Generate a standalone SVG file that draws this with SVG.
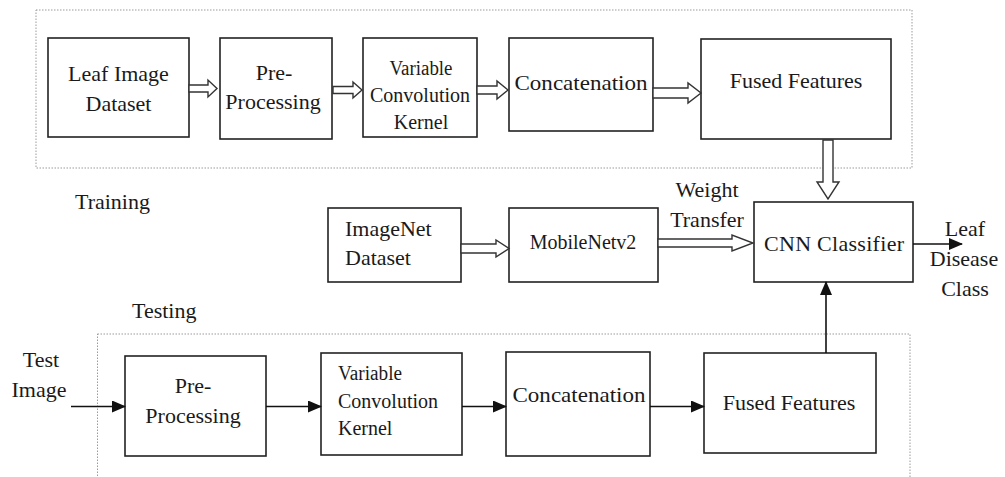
<svg xmlns="http://www.w3.org/2000/svg" width="1005" height="477" viewBox="0 0 1005 477" font-family="'Liberation Serif', 'DejaVu Serif', serif">
  <style>
    text { font-family: 'Liberation Serif', 'DejaVu Serif', serif; font-size: 22px; fill: #1a1a1a; }
    .c { text-anchor: middle; }
    .s20 { font-size: 20px; }
    .box { fill: #fff; stroke: #222; stroke-width: 1.6; }
    .region { fill: none; stroke: #9a9a9a; stroke-width: 1; stroke-dasharray: 1.5 1.5; }
    .hollow { fill: #fff; stroke: #333; stroke-width: 1.4; stroke-linejoin: miter; }
    .line { fill: none; stroke: #111; stroke-width: 1.6; }
  </style>
  <defs>
    <marker id="tri" markerWidth="14" markerHeight="12" refX="13" refY="6" orient="auto" markerUnits="userSpaceOnUse">
      <path d="M0,0 L14,6 L0,12 Z" fill="#111"/>
    </marker>
  </defs>

  <rect width="1005" height="477" fill="#fff"/>

  <!-- dotted stage regions -->
  <g id="regions">
    <rect class="region" x="36" y="10" width="876" height="158"/>
    <rect class="region" x="97.5" y="334" width="812.5" height="160"/>
    <text x="75" y="209">Training</text>
    <text x="132" y="318">Testing</text>
  </g>

  <!-- training branch -->
  <g id="train-dataset">
    <rect class="box" x="48" y="38" width="141" height="99"/>
    <text class="c" x="118.5" y="81">Leaf Image</text>
    <text class="c" x="118.5" y="111">Dataset</text>
  </g>
  <g id="train-preprocessing">
    <rect class="box" x="220" y="38" width="112" height="101"/>
    <text class="c" x="274" y="80">Pre-</text>
    <text class="c" x="273" y="109">Processing</text>
  </g>
  <g id="train-kernel">
    <rect class="box" x="363" y="38" width="114" height="99"/>
    <text class="c s20" x="421" y="75" textLength="63" lengthAdjust="spacingAndGlyphs">Variable</text>
    <text class="c s20" x="420" y="102">Convolution</text>
    <text class="c s20" x="421" y="129">Kernel</text>
  </g>
  <g id="train-concat">
    <rect class="box" x="509" y="38" width="144" height="93"/>
    <text class="c" x="581" y="90" textLength="133" lengthAdjust="spacingAndGlyphs">Concatenation</text>
  </g>
  <g id="train-fused">
    <rect class="box" x="701" y="39" width="190" height="100"/>
    <text class="c" x="796" y="88">Fused Features</text>
  </g>

  <!-- transfer-learning branch -->
  <g id="imagenet">
    <rect class="box" x="328" y="208" width="133" height="74"/>
    <text x="345" y="236">ImageNet</text>
    <text x="345" y="265">Dataset</text>
  </g>
  <g id="mobilenet">
    <rect class="box" x="509" y="208" width="149" height="74"/>
    <text class="c s20" x="583" y="249">MobileNetv2</text>
  </g>
  <g id="cnn-classifier">
    <rect class="box" x="754" y="202" width="159" height="80"/>
    <text class="c" x="834" y="251" textLength="140" lengthAdjust="spacing">CNN Classifier</text>
  </g>

  <!-- testing branch -->
  <g id="test-preprocessing">
    <rect class="box" x="125" y="356" width="141" height="100"/>
    <text class="c" x="193" y="393">Pre-</text>
    <text class="c" x="193" y="423">Processing</text>
  </g>
  <g id="test-kernel">
    <rect class="box" x="321" y="353" width="141" height="102"/>
    <text class="s20" x="338" y="380" textLength="64" lengthAdjust="spacingAndGlyphs">Variable</text>
    <text class="s20" x="338" y="408">Convolution</text>
    <text class="s20" x="338" y="435">Kernel</text>
  </g>
  <g id="test-concat">
    <rect class="box" x="506" y="352" width="144" height="104"/>
    <text class="c" x="579" y="402" textLength="133" lengthAdjust="spacingAndGlyphs">Concatenation</text>
  </g>
  <g id="test-fused">
    <rect class="box" x="704" y="353" width="172" height="100"/>
    <text class="c" x="789" y="410">Fused Features</text>
  </g>

  <!-- free labels -->
  <g id="labels">
    <text class="c" x="41" y="367">Test</text>
    <text class="c" x="39" y="397">Image</text>
    <text class="c" x="707" y="197">Weight</text>
    <text class="c" x="707" y="227">Transfer</text>
    <text class="c" x="965" y="236">Leaf</text>
    <text class="c" x="964" y="266">Disease</text>
    <text class="c" x="965" y="296">Class</text>
  </g>

  <!-- connectors -->
  <g id="connectors">
    <!-- hollow block arrows (training / transfer) -->
    <polygon class="hollow" points="189,85 208,85 208,80 217,88.5 208,97 208,92 189,92"/>
    <polygon class="hollow" points="333,86.5 353,86.5 353,82 362,90 353,98 353,93.5 333,93.5"/>
    <polygon class="hollow" points="477,86 497,86 497,81 508,90 497,99 497,94 477,94"/>
    <polygon class="hollow" points="653,88 688,88 688,83 701,93 688,103 688,98 653,98"/>
    <polygon class="hollow" points="823,140 833,140 833,182 839,182 828,199 817,182 823,182"/>
    <polygon class="hollow" points="461,244 496,244 496,240 509,248.5 496,257 496,253 461,253"/>
    <polygon class="hollow" points="658,239 732,239 732,235 753,243 732,251 732,247 658,247"/>
    <!-- plain arrows (testing / output) -->
    <line class="line" x1="71" y1="406.5" x2="125" y2="406.5" marker-end="url(#tri)"/>
    <line class="line" x1="266" y1="406.5" x2="321" y2="406.5" marker-end="url(#tri)"/>
    <line class="line" x1="462" y1="406.5" x2="506" y2="406.5" marker-end="url(#tri)"/>
    <line class="line" x1="650" y1="406.5" x2="704" y2="406.5" marker-end="url(#tri)"/>
    <line class="line" x1="826" y1="353" x2="826" y2="282" marker-end="url(#tri)"/>
    <line class="line" x1="913" y1="244" x2="962" y2="244" marker-end="url(#tri)"/>
  </g>
</svg>
